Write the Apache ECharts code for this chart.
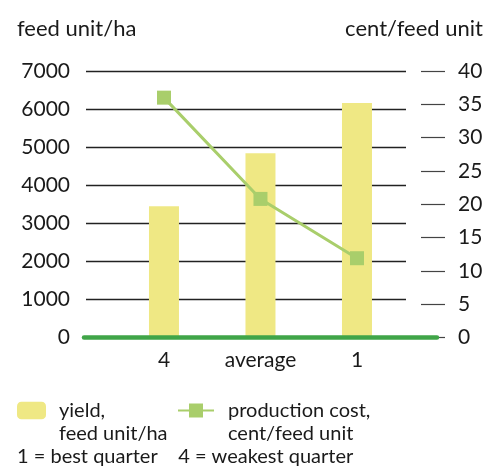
<!DOCTYPE html>
<html>
<head>
<meta charset="utf-8">
<script src="https://cdn.jsdelivr.net/npm/echarts@6/dist/echarts.min.js"></script>
<style>
html,body{margin:0;padding:0;background:#fff;}
#chart{width:494px;height:473px;}
</style>
</head>
<body>
<div id="chart"></div>
<script>
var categories = ['4', 'average', '1'];
var yieldValues = [3450, 4840, 6160];
var costValues = [36, 20.8, 11.9];
var leftTicks = {min: 0, max: 7000, interval: 1000};
var rightTicks = {min: 0, max: 40, interval: 5};
var yieldName = 'yield,\nfeed unit/ha';
var costName = 'production cost,\ncent/feed unit';
var note = '1 = best quarter    4 = weakest quarter';

var FONT = 'Lato';
var chart = echarts.init(document.getElementById('chart'), null, {renderer: 'canvas'});

var gridTop = 71, gridBottom = 135.5;
// leading empty line keeps the legend icon level with the first text line
function legendFmt(name) { return '\n' + name; }

chart.setOption({
  animation: false,
  backgroundColor: '#fff',
  textStyle: {fontFamily: FONT},
  title: [
    {text: 'feed unit/ha', left: 12, top: 13, textStyle: {fontFamily: FONT, fontSize: 22, fontWeight: 'normal', color: '#1a1a1a'}},
    {text: 'cent/feed unit', right: 6, top: 13, textStyle: {fontFamily: FONT, fontSize: 22, fontWeight: 'normal', color: '#1a1a1a'}},
    {text: note, left: 12, top: 442, textStyle: {fontFamily: FONT, fontSize: 20, fontWeight: 'normal', color: '#1a1a1a'}}
  ],
  legend: [
    {
      data: [yieldName], left: 17, top: 376, padding: 0,
      itemWidth: 29, itemHeight: 17.5, formatter: legendFmt,
      textStyle: {fontFamily: FONT, fontSize: 20, color: '#1a1a1a', lineHeight: 23, padding: [0, 0, 0, 8]}
    },
    {
      data: [costName], left: 177, top: 376, padding: 0,
      itemWidth: 36, itemHeight: 17.5, formatter: legendFmt,
      textStyle: {fontFamily: FONT, fontSize: 20, color: '#1a1a1a', lineHeight: 23, padding: [0, 0, 0, 9]}
    }
  ],
  grid: [
    {left: 86, right: 88, top: gridTop, bottom: gridBottom},
    {left: 84, right: 57, top: gridTop, bottom: gridBottom}
  ],
  xAxis: [
    {
      type: 'value', gridIndex: 0, min: -0.808, max: 2.508,
      splitLine: {show: false}, axisLine: {show: false}, axisTick: {show: false},
      axisLabel: {
        margin: 12, fontSize: 21, color: '#1a1a1a', fontFamily: FONT,
        hideOverlap: false,
        customValues: categories.map(function (c, i) { return i; }),
        formatter: function (v) { var i = Math.round(v); return categories[i] !== undefined ? categories[i] : ''; }
      }
    },
    {
      type: 'value', gridIndex: 1, min: 0, max: 1, z: 10,
      splitLine: {show: false}, axisTick: {show: false}, axisLabel: {show: false},
      axisLine: {show: true, lineStyle: {color: '#40a548', width: 4.5}}
    }
  ],
  yAxis: [
    {
      type: 'value', gridIndex: 0, position: 'left',
      min: leftTicks.min, max: leftTicks.max, interval: leftTicks.interval,
      axisLine: {show: false}, axisTick: {show: false},
      splitLine: {show: true, lineStyle: {color: '#222', width: 1.3}},
      axisLabel: {margin: 16, fontSize: 21, color: '#1a1a1a', fontFamily: FONT, formatter: function (v) { return String(v); }}
    },
    {
      type: 'value', gridIndex: 0, position: 'right', offset: 15,
      min: rightTicks.min, max: rightTicks.max, interval: rightTicks.interval,
      axisLine: {show: false},
      axisTick: {show: true, inside: false, length: 24, lineStyle: {color: '#444', width: 1.2}},
      splitLine: {show: false},
      axisLabel: {margin: 37, fontSize: 21, color: '#1a1a1a', fontFamily: FONT, formatter: function (v) { return String(v); }}
    },
    {type: 'value', gridIndex: 1, show: false, min: 0, max: 1}
  ],
  series: [
    {
      name: yieldName, type: 'bar', xAxisIndex: 0, yAxisIndex: 0,
      barWidth: 30,
      itemStyle: {color: '#efe884'},
      data: yieldValues.map(function (v, i) { return [i, v]; })
    },
    {
      name: costName, type: 'line', xAxisIndex: 0, yAxisIndex: 1,
      symbol: 'rect', symbolSize: 14,
      lineStyle: {color: '#a9ce6b', width: 3},
      itemStyle: {color: '#a9ce6b'},
      data: costValues.map(function (v, i) { return [i, v]; })
    }
  ]
});
</script>
</body>
</html>
